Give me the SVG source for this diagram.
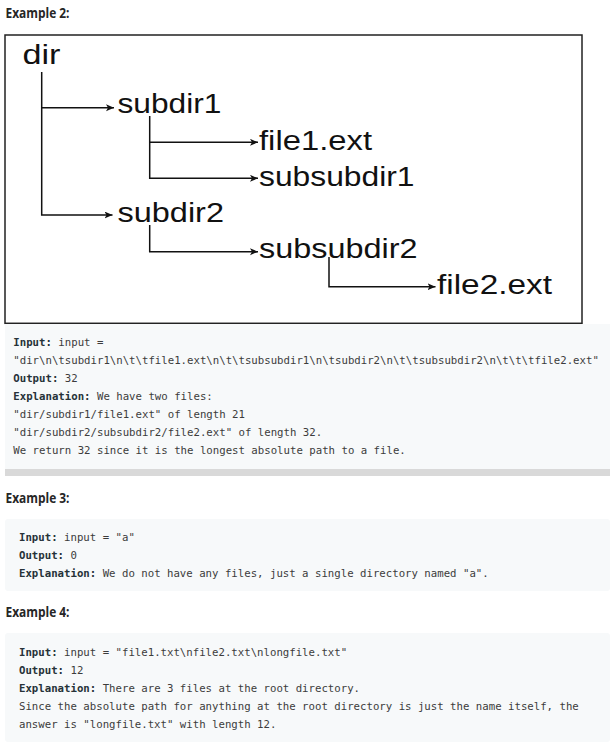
<svg xmlns="http://www.w3.org/2000/svg" width="613" height="748" viewBox="0 0 613 748">
<style>
.h{font-family:"Open Sans","Liberation Sans",sans-serif;font-weight:bold;font-size:13.5px;fill:#262626}
.n{font-family:"Liberation Sans",Arial,sans-serif;font-size:27px;fill:#111}
.c{font-family:"DejaVu Sans Mono","Liberation Mono",monospace;font-size:10.7px;fill:#3c3c3c}
.b{font-weight:bold;fill:#263238}
.blk{fill:#f7f9fa}
.ln{fill:none;stroke:#111;stroke-width:1.5}
</style>
<defs>
<marker id="ah" markerUnits="userSpaceOnUse" markerWidth="10" markerHeight="8" refX="8" refY="3.5" orient="auto">
<path d="M0,0 L8,3.5 L0,7 L2,3.5 z" fill="#111"/>
</marker>
</defs>
<rect width="613" height="748" fill="#fff"/>
<text class="h" x="5.5" y="18.3" textLength="64" lengthAdjust="spacingAndGlyphs">Example 2:</text>
<rect x="5" y="35" width="577" height="288.3" fill="#fff" stroke="#222" stroke-width="1.5"/>
<g id="connectors">
<path class="ln" d="M41.7,72 V215 H112.5" marker-end="url(#ah)"/>
<path class="ln" d="M41.7,107.7 H114" marker-end="url(#ah)"/>
<path class="ln" d="M149.7,116 V178.3 H258" marker-end="url(#ah)"/>
<path class="ln" d="M149.7,142.3 H258" marker-end="url(#ah)"/>
<path class="ln" d="M149.7,225 V251.7 H258" marker-end="url(#ah)"/>
<path class="ln" d="M329,257 V286.7 H435.5" marker-end="url(#ah)"/>
</g>
<g id="dir"><text class="n" x="22.5" y="64.3" textLength="38" lengthAdjust="spacingAndGlyphs">dir</text></g>
<g id="subdir1"><text class="n" x="117.5" y="113.3" textLength="104" lengthAdjust="spacingAndGlyphs">subdir1</text></g>
<g id="file1"><text class="n" x="259" y="150" textLength="113" lengthAdjust="spacingAndGlyphs">file1.ext</text></g>
<g id="subsubdir1"><text class="n" x="259" y="186" textLength="155.5" lengthAdjust="spacingAndGlyphs">subsubdir1</text></g>
<g id="subdir2"><text class="n" x="117.5" y="221.7" textLength="106.5" lengthAdjust="spacingAndGlyphs">subdir2</text></g>
<g id="subsubdir2"><text class="n" x="259" y="258.3" textLength="158.5" lengthAdjust="spacingAndGlyphs">subsubdir2</text></g>
<g id="file2"><text class="n" x="437" y="294.3" textLength="115" lengthAdjust="spacingAndGlyphs">file2.ext</text></g>

<rect class="blk" x="5" y="324" width="605" height="152"/>
<rect x="5" y="469" width="605" height="7" fill="#d9d9d9"/>
<text class="c" x="13.3" y="346"><tspan class="b">Input:</tspan> input =</text>
<text class="c" x="13.3" y="364">"dir\n\tsubdir1\n\t\tfile1.ext\n\t\tsubsubdir1\n\tsubdir2\n\t\tsubsubdir2\n\t\t\tfile2.ext"</text>
<text class="c" x="13.3" y="382"><tspan class="b">Output:</tspan> 32</text>
<text class="c" x="13.3" y="400"><tspan class="b">Explanation:</tspan> We have two files:</text>
<text class="c" x="13.3" y="418">"dir/subdir1/file1.ext" of length 21</text>
<text class="c" x="13.3" y="436">"dir/subdir2/subsubdir2/file2.ext" of length 32.</text>
<text class="c" x="13.3" y="454">We return 32 since it is the longest absolute path to a file.</text>

<text class="h" x="5.5" y="502.7" textLength="64" lengthAdjust="spacingAndGlyphs">Example 3:</text>
<rect class="blk" x="5" y="519" width="605" height="72" rx="3"/>
<text class="c" x="19" y="541"><tspan class="b">Input:</tspan> input = "a"</text>
<text class="c" x="19" y="559"><tspan class="b">Output:</tspan> 0</text>
<text class="c" x="19" y="577"><tspan class="b">Explanation:</tspan> We do not have any files, just a single directory named "a".</text>

<text class="h" x="5.5" y="617" textLength="64" lengthAdjust="spacingAndGlyphs">Example 4:</text>
<rect class="blk" x="5" y="633" width="605" height="109" rx="3"/>
<text class="c" x="19" y="656"><tspan class="b">Input:</tspan> input = "file1.txt\nfile2.txt\nlongfile.txt"</text>
<text class="c" x="19" y="674"><tspan class="b">Output:</tspan> 12</text>
<text class="c" x="19" y="692"><tspan class="b">Explanation:</tspan> There are 3 files at the root directory.</text>
<text class="c" x="19" y="710">Since the absolute path for anything at the root directory is just the name itself, the</text>
<text class="c" x="19" y="728">answer is "longfile.txt" with length 12.</text>
</svg>
